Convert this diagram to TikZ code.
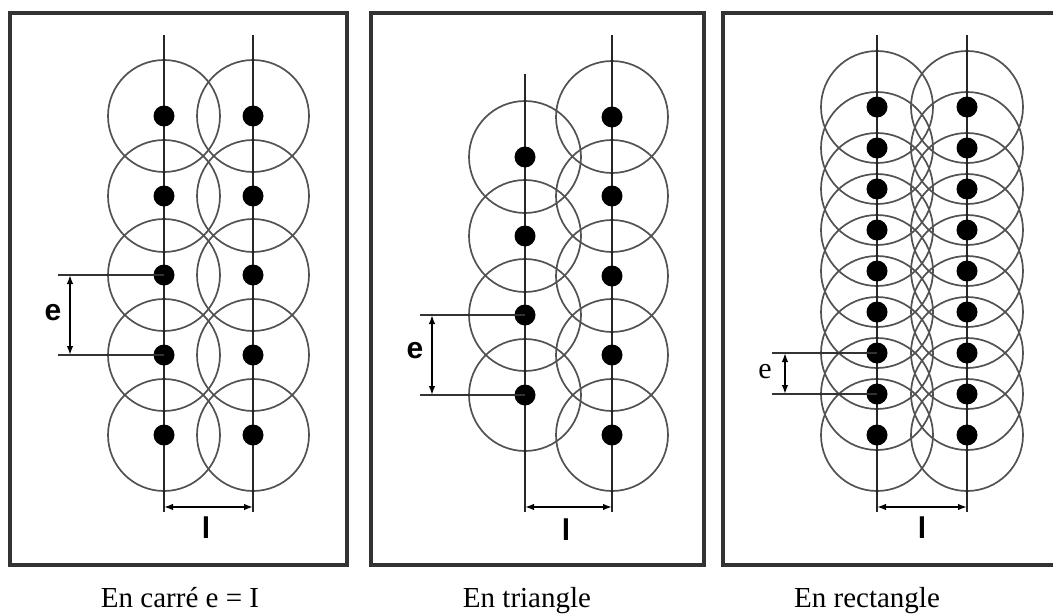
\documentclass[tikz,border=0pt]{standalone}
\usepackage{fontspec}
\setmainfont{Liberation Serif}
\setsansfont{Liberation Sans}
\usetikzlibrary{arrows.meta}

\begin{document}
\begin{tikzpicture}[>=Latex, x=1pt, y=-1pt,
  frame/.style={line width=3.2pt, draw=black!80},
  axis/.style={line width=1.8pt, draw=black!85},
  zone/.style={line width=1.7pt, draw=black!68},
  ext/.style={line width=1.5pt, draw=black!80},
  dim/.style={<->, line width=1.5pt, >={Latex[length=9pt,width=6.5pt]}},
  lab/.style={font=\fontsize{30}{32}\selectfont\sffamily\bfseries, inner sep=0pt},
  caption/.style={font=\fontsize{29}{34}\selectfont, inner sep=0pt, anchor=base}]
\useasboundingbox (0,0) rectangle (1053,616);

% frames
\draw[frame] (10,13) rectangle (347,565);
\draw[frame] (371,13) rectangle (704,565);
\draw[frame] (1060,13) -| (723,565) -- (1060,565);

% square
\foreach \y [count=\i] in {116,196,275,355,435} {
  \draw[zone] (164,\y) circle (56);
  \draw[zone] (253,\y) circle (56);
  \coordinate (sqa-\i) at (164,\y);
  \coordinate (sqb-\i) at (253,\y);
}
\coordinate (sqa-top) at (164,35);
\coordinate (sqa-bot) at (164,512);
\coordinate (sqb-top) at (253,35);
\coordinate (sqb-bot) at (253,512);
\draw[axis] (sqa-top) -- (sqa-bot);
\draw[axis] (sqb-top) -- (sqb-bot);
\foreach \i in {1,...,5} {
  \fill (sqa-\i) circle (10.5);
  \fill (sqb-\i) circle (10.5);
}
\coordinate (sqe-top) at (58,275);
\coordinate (sqe-bot) at (58,355);
\draw[ext] (sqe-top) -- (sqa-3);
\draw[ext] (sqe-bot) -- (sqa-4);
\draw[dim] ([xshift=12pt]sqe-top) -- ([xshift=12pt]sqe-bot);
\node[lab] (sqe) at (53,313) {e};
\draw[dim] ([yshift=5pt]sqa-bot) -- ([yshift=5pt]sqb-bot);
\node[lab] (sql) at (206,528) {l};
\node[caption] (sqcap) at (180,607) {En carré e = I};

% triangle
\foreach \y [count=\i] in {157,236,315,395} {
  \draw[zone] (525,\y) circle (56);
  \coordinate (tra-\i) at (525,\y);
}
\foreach \y [count=\i] in {117,196,276,355,435} {
  \draw[zone] (612,\y) circle (56);
  \coordinate (trb-\i) at (612,\y);
}
\coordinate (tra-top) at (525,74);
\coordinate (tra-bot) at (525,512);
\coordinate (trb-top) at (612,35);
\coordinate (trb-bot) at (612,512);
\draw[axis] (tra-top) -- (tra-bot);
\draw[axis] (trb-top) -- (trb-bot);
\foreach \i in {1,...,4} \fill (tra-\i) circle (10.5);
\foreach \i in {1,...,5} \fill (trb-\i) circle (10.5);
\coordinate (tre-top) at (420,315);
\coordinate (tre-bot) at (420,395);
\draw[ext] (tre-top) -- (tra-3);
\draw[ext] (tre-bot) -- (tra-4);
\draw[dim] ([xshift=12pt]tre-top) -- ([xshift=12pt]tre-bot);
\node[lab] (tre) at (415,351) {e};
\draw[dim] ([yshift=5pt]tra-bot) -- ([yshift=5pt]trb-bot);
\node[lab] (trl) at (566,530) {l};
\node[caption] (trcap) at (527,607) {En triangle};

% rectangle
\foreach \i in {1,...,9} {
  \draw[zone] (877,{107+41*(\i-1)}) circle (56);
  \draw[zone] (967,{107+41*(\i-1)}) circle (56);
  \coordinate (rea-\i) at (877,{107+41*(\i-1)});
  \coordinate (reb-\i) at (967,{107+41*(\i-1)});
}
\coordinate (rea-top) at (877,35);
\coordinate (rea-bot) at (877,512);
\coordinate (reb-top) at (967,35);
\coordinate (reb-bot) at (967,512);
\draw[axis] (rea-top) -- (rea-bot);
\draw[axis] (reb-top) -- (reb-bot);
\foreach \i in {1,...,9} {
  \fill (rea-\i) circle (10.5);
  \fill (reb-\i) circle (10.5);
}
\coordinate (ree-top) at (772,353);
\coordinate (ree-bot) at (772,394);
\draw[ext] (ree-top) -- (rea-7);
\draw[ext] (ree-bot) -- (rea-8);
\draw[dim] ([xshift=13pt]ree-top) -- ([xshift=13pt]ree-bot);
\node[font=\fontsize{30}{32}\selectfont, inner sep=0pt] (ree) at (765,372) {e};
\draw[dim] ([yshift=5pt]rea-bot) -- ([yshift=5pt]reb-bot);
\node[lab] (rel) at (922,528) {l};
\node[caption] (recap) at (867,607) {En rectangle};
\end{tikzpicture}
\end{document}
